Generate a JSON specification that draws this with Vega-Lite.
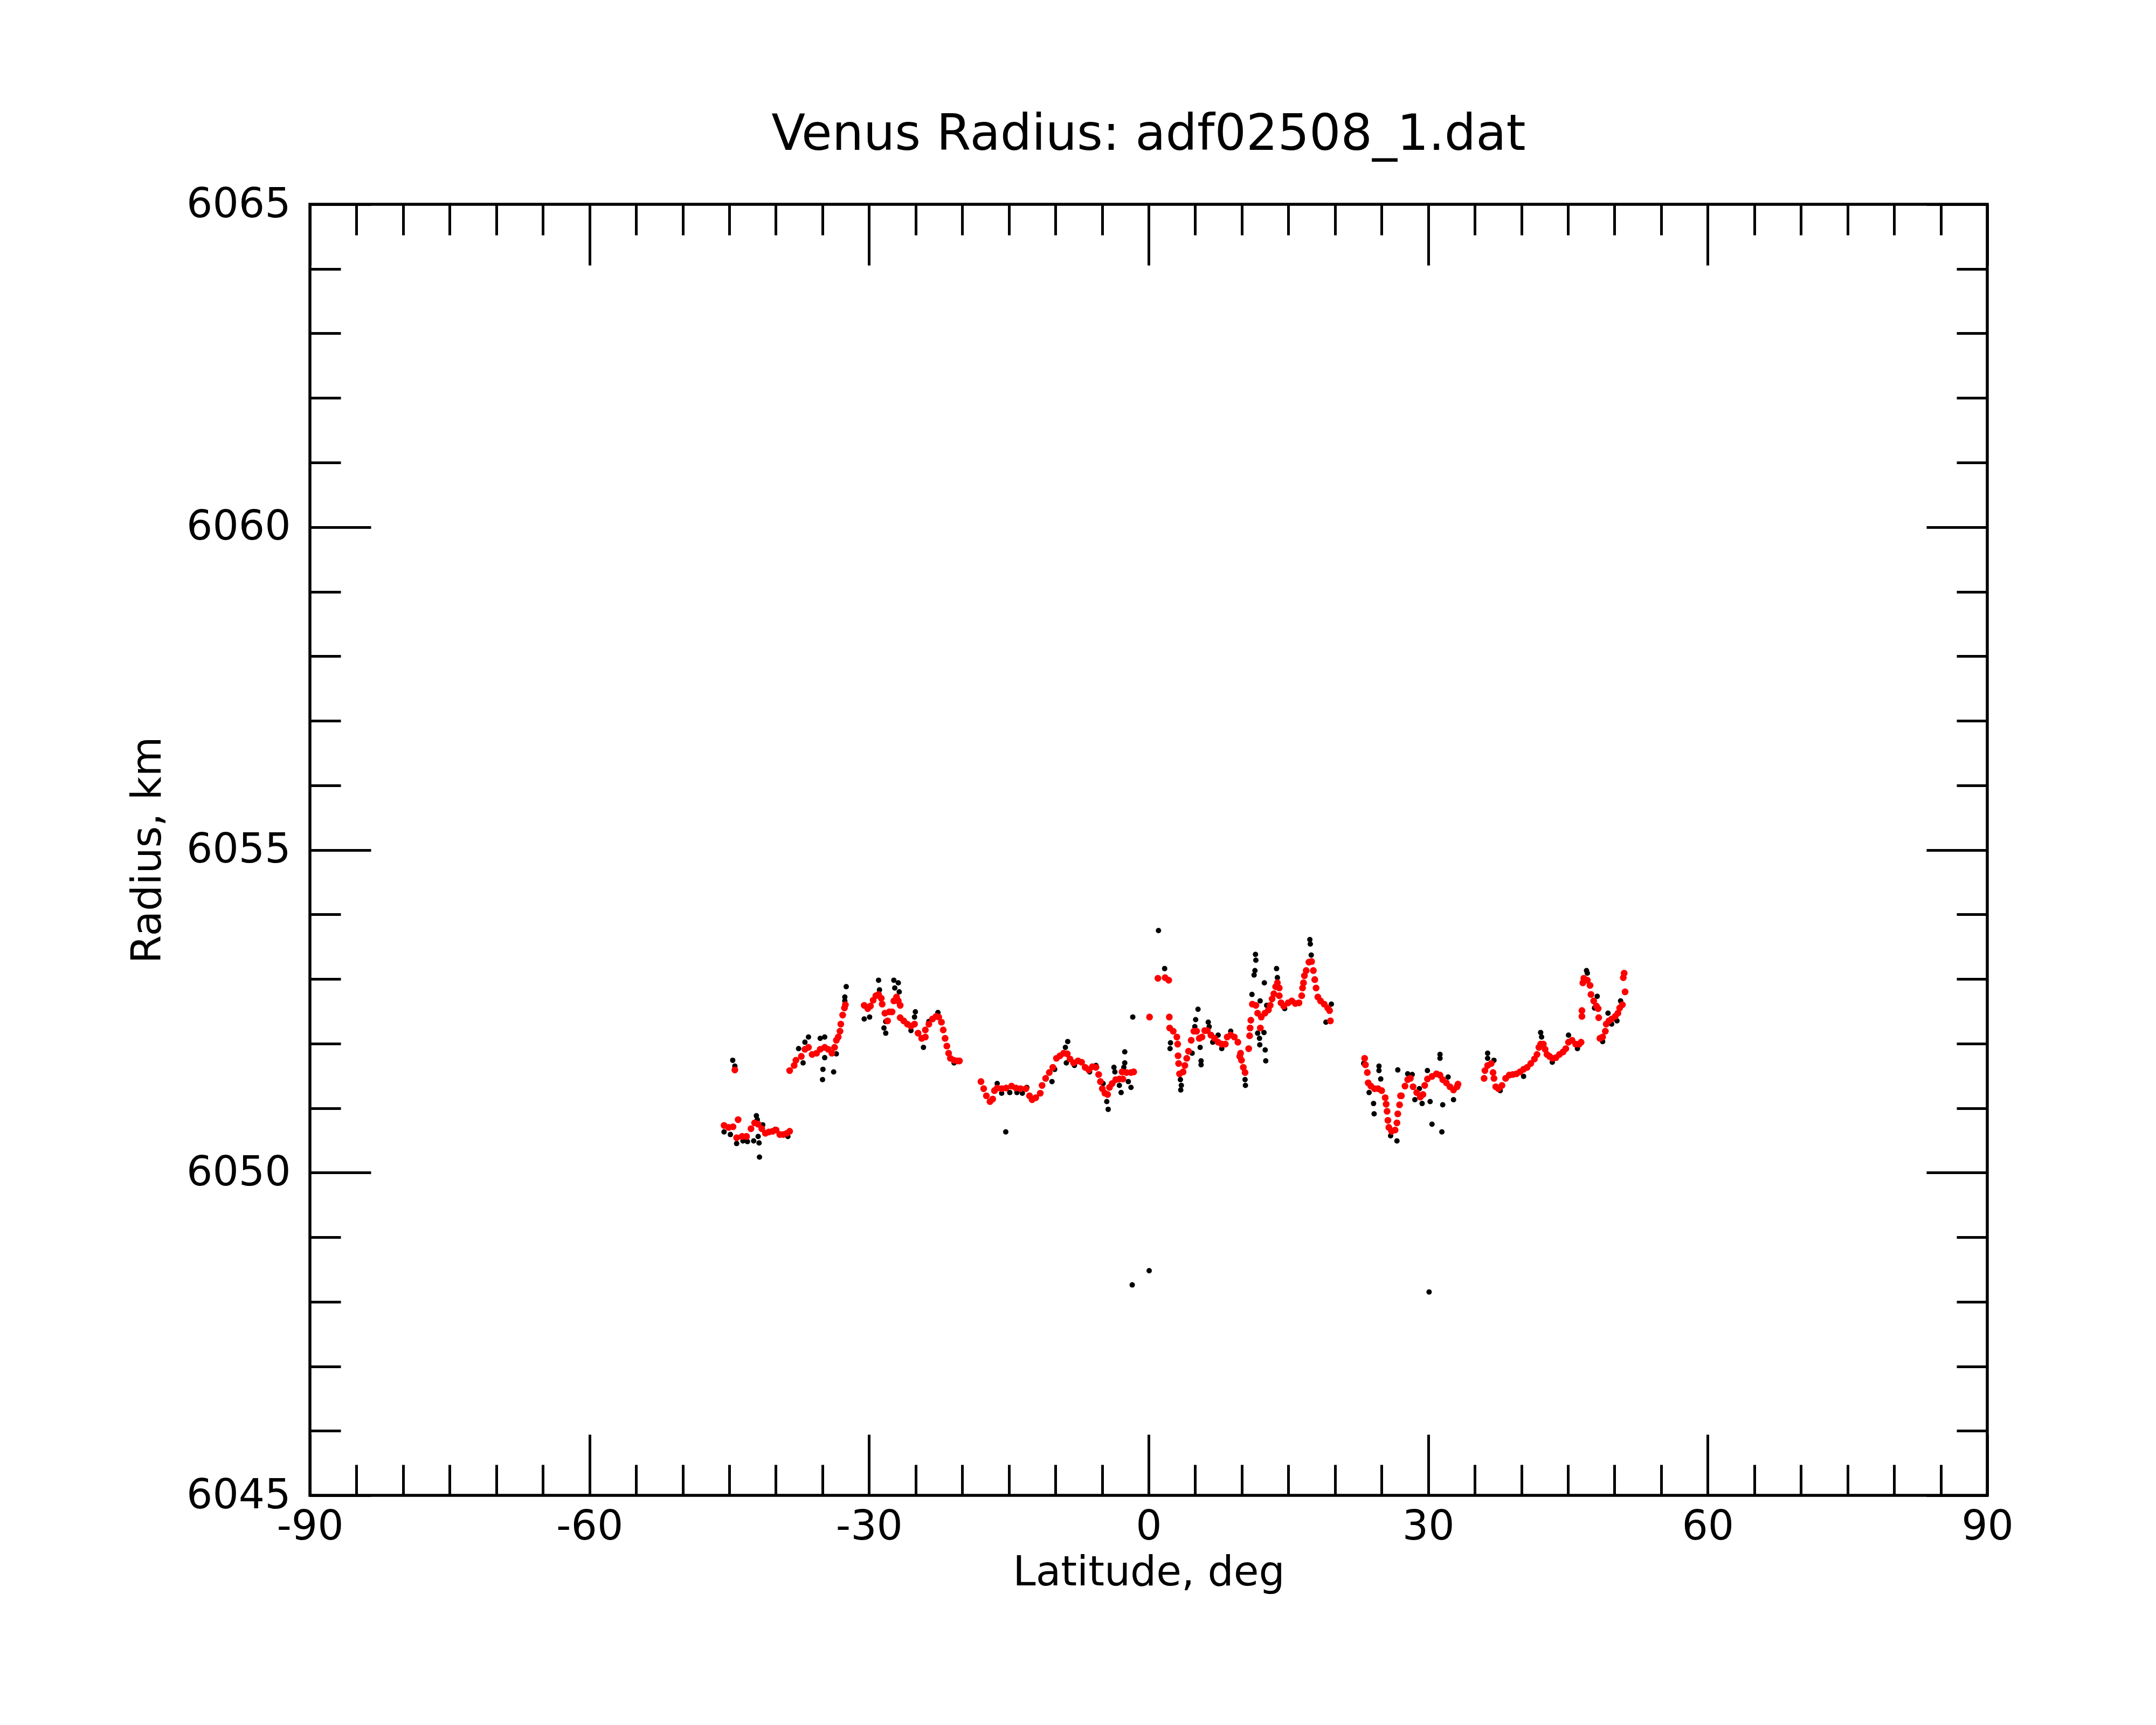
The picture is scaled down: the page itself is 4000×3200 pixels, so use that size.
{
  "$schema": "https://vega.github.io/schema/vega-lite/v6.json",
  "autosize": {"type": "none"},
  "padding": {"left": 575, "top": 379, "right": 313, "bottom": 426},
  "width": 3112,
  "height": 2395,
  "background": "white",
  "config": {
    "font": "DejaVu Sans",
    "view": {"stroke": "black", "strokeWidth": 5.5},
    "axis": {
      "domain": false,
      "ticks": false,
      "grid": true,
      "gridColor": "black",
      "gridOpacity": 1,
      "gridWidth": 5,
      "labelFont": "DejaVu Sans",
      "labelFontSize": 76,
      "labelColor": "black",
      "labelFlush": false,
      "labelOverlap": false,
      "labelLimit": 0,
      "titleFont": "DejaVu Sans",
      "titleFontSize": 76,
      "titleFontWeight": "normal",
      "titleColor": "black"
    }
  },
  "title": {
    "text": "Venus Radius: adf02508_1.dat",
    "fontSize": 92,
    "fontWeight": "normal",
    "font": "DejaVu Sans",
    "color": "black",
    "anchor": "middle",
    "baseline": "alphabetic",
    "offset": -29
  },
  "datasets": {
    "raw": [
      {"lat": -45.56, "r": 6050.63}, {"lat": -44.88, "r": 6050.59}, {"lat": -44.21, "r": 6050.45}, {"lat": -43.53, "r": 6050.49},
      {"lat": -43.05, "r": 6050.48}, {"lat": -42.38, "r": 6050.49}, {"lat": -42.09, "r": 6050.88}, {"lat": -41.99, "r": 6050.82},
      {"lat": -41.90, "r": 6050.56}, {"lat": -41.80, "r": 6050.46}, {"lat": -41.76, "r": 6050.24}, {"lat": -41.41, "r": 6050.74},
      {"lat": -40.06, "r": 6050.67}, {"lat": -38.71, "r": 6050.56}, {"lat": -44.63, "r": 6051.74}, {"lat": -44.40, "r": 6051.65},
      {"lat": -37.56, "r": 6051.92}, {"lat": -36.88, "r": 6052.02}, {"lat": -36.50, "r": 6052.10}, {"lat": -35.24, "r": 6052.08},
      {"lat": -34.76, "r": 6052.10}, {"lat": -34.95, "r": 6051.60}, {"lat": -33.80, "r": 6051.56}, {"lat": -34.99, "r": 6051.44},
      {"lat": -34.76, "r": 6051.78}, {"lat": -33.51, "r": 6051.84}, {"lat": -37.08, "r": 6051.70}, {"lat": -32.45, "r": 6052.88},
      {"lat": -32.60, "r": 6052.72}, {"lat": -32.60, "r": 6052.66},
      {"lat": -28.98, "r": 6052.98}, {"lat": -30.52, "r": 6052.38}, {"lat": -29.94, "r": 6052.41}, {"lat": -28.88, "r": 6052.83},
      {"lat": -27.34, "r": 6052.98}, {"lat": -26.86, "r": 6052.94}, {"lat": -26.76, "r": 6052.80}, {"lat": -27.24, "r": 6052.86},
      {"lat": -28.21, "r": 6052.16}, {"lat": -28.40, "r": 6052.24}, {"lat": -28.21, "r": 6052.34}, {"lat": -25.03, "r": 6052.49},
      {"lat": -25.12, "r": 6052.41}, {"lat": -24.16, "r": 6051.94}, {"lat": -22.61, "r": 6052.48}, {"lat": -23.58, "r": 6052.34},
      {"lat": -25.50, "r": 6052.20}, {"lat": -20.88, "r": 6051.70},
      {"lat": -16.25, "r": 6051.38}, {"lat": -15.77, "r": 6051.23}, {"lat": -14.90, "r": 6051.24}, {"lat": -14.13, "r": 6051.24},
      {"lat": -13.55, "r": 6051.23}, {"lat": -13.07, "r": 6051.32}, {"lat": -10.37, "r": 6051.41}, {"lat": -10.08, "r": 6051.60},
      {"lat": -8.93, "r": 6051.94}, {"lat": -8.68, "r": 6052.03}, {"lat": -8.83, "r": 6051.70}, {"lat": -7.96, "r": 6051.66},
      {"lat": -6.33, "r": 6051.56}, {"lat": -5.65, "r": 6051.66}, {"lat": -4.88, "r": 6051.38}, {"lat": -4.49, "r": 6051.10},
      {"lat": -4.34, "r": 6050.98}, {"lat": -3.72, "r": 6051.63}, {"lat": -3.62, "r": 6051.56}, {"lat": -3.14, "r": 6051.35},
      {"lat": -2.95, "r": 6051.24}, {"lat": -2.66, "r": 6051.63}, {"lat": -2.56, "r": 6051.70}, {"lat": -2.56, "r": 6051.87},
      {"lat": -2.18, "r": 6051.41}, {"lat": -1.89, "r": 6051.32}, {"lat": -15.33, "r": 6050.63}, {"lat": -1.70, "r": 6052.41},
      {"lat": 1.72, "r": 6053.16}, {"lat": 2.35, "r": 6052.01}, {"lat": 2.30, "r": 6051.92}, {"lat": 3.41, "r": 6051.44},
      {"lat": 3.51, "r": 6051.35}, {"lat": 3.45, "r": 6051.28}, {"lat": 5.30, "r": 6052.53}, {"lat": 5.05, "r": 6052.37},
      {"lat": 4.96, "r": 6052.26}, {"lat": 6.40, "r": 6052.33}, {"lat": 6.50, "r": 6052.26}, {"lat": 5.53, "r": 6051.94},
      {"lat": 5.63, "r": 6051.73}, {"lat": 5.63, "r": 6051.67}, {"lat": 4.67, "r": 6051.85}, {"lat": 6.88, "r": 6052.02},
      {"lat": 7.46, "r": 6052.13}, {"lat": 7.85, "r": 6051.92}, {"lat": 8.81, "r": 6052.19},
      {"lat": 1.06, "r": 6053.75}, {"lat": 11.47, "r": 6053.38}, {"lat": 11.51, "r": 6053.29}, {"lat": 11.41, "r": 6053.13},
      {"lat": 11.32, "r": 6053.06}, {"lat": 12.42, "r": 6052.94}, {"lat": 11.09, "r": 6052.76}, {"lat": 11.97, "r": 6052.66},
      {"lat": 12.67, "r": 6052.59}, {"lat": 13.73, "r": 6053.16}, {"lat": 13.82, "r": 6053.02}, {"lat": 11.70, "r": 6052.16},
      {"lat": 11.90, "r": 6052.08}, {"lat": 12.38, "r": 6052.17}, {"lat": 11.93, "r": 6051.98}, {"lat": 12.51, "r": 6051.90},
      {"lat": 12.57, "r": 6051.73}, {"lat": 17.30, "r": 6053.61}, {"lat": 17.35, "r": 6053.54}, {"lat": 17.45, "r": 6053.37},
      {"lat": 14.60, "r": 6052.54}, {"lat": 19.61, "r": 6052.61}, {"lat": 19.03, "r": 6052.33}, {"lat": 10.39, "r": 6051.35},
      {"lat": 10.35, "r": 6051.44},
      {"lat": 23.08, "r": 6051.69}, {"lat": 24.72, "r": 6051.65}, {"lat": 24.72, "r": 6051.58}, {"lat": 24.91, "r": 6051.45},
      {"lat": 26.74, "r": 6051.59}, {"lat": 24.14, "r": 6051.07}, {"lat": 24.20, "r": 6050.91}, {"lat": 23.66, "r": 6051.24},
      {"lat": 25.97, "r": 6050.57}, {"lat": 26.65, "r": 6050.49},
      {"lat": 27.80, "r": 6051.53}, {"lat": 28.29, "r": 6051.52}, {"lat": 28.57, "r": 6051.13}, {"lat": 29.35, "r": 6051.07},
      {"lat": 30.21, "r": 6051.10}, {"lat": 30.41, "r": 6050.75}, {"lat": 31.47, "r": 6050.63}, {"lat": 31.56, "r": 6051.05},
      {"lat": 29.92, "r": 6051.58}, {"lat": 31.27, "r": 6051.83}, {"lat": 31.27, "r": 6051.77}, {"lat": 32.14, "r": 6051.48},
      {"lat": 32.72, "r": 6051.13}, {"lat": 29.06, "r": 6051.30},
      {"lat": 36.38, "r": 6051.85}, {"lat": 36.38, "r": 6051.77}, {"lat": 37.06, "r": 6051.74}, {"lat": 42.07, "r": 6052.17},
      {"lat": 42.17, "r": 6052.10}, {"lat": 45.06, "r": 6052.13}, {"lat": 46.02, "r": 6051.92}, {"lat": 43.32, "r": 6051.71},
      {"lat": 37.73, "r": 6051.27}, {"lat": 40.24, "r": 6051.49},
      {"lat": 46.99, "r": 6053.13}, {"lat": 47.08, "r": 6053.09}, {"lat": 48.14, "r": 6052.73}, {"lat": 48.72, "r": 6052.03},
      {"lat": 49.30, "r": 6052.47}, {"lat": 49.69, "r": 6052.30}, {"lat": 50.26, "r": 6052.35}, {"lat": 50.65, "r": 6052.66},
      {"lat": 47.85, "r": 6052.55},
      {"lat": 0.06, "r": 6048.48}, {"lat": -1.76, "r": 6048.26}, {"lat": 30.1, "r": 6048.15}
    ],
    "smoothed": [
      {"lat": -45.56, "r": 6050.73}, {"lat": -45.08, "r": 6050.70}, {"lat": -44.60, "r": 6050.71}, {"lat": -44.05, "r": 6050.82},
      {"lat": -44.21, "r": 6050.54}, {"lat": -43.63, "r": 6050.56}, {"lat": -43.15, "r": 6050.56}, {"lat": -42.67, "r": 6050.68},
      {"lat": -42.28, "r": 6050.77}, {"lat": -41.90, "r": 6050.75}, {"lat": -41.51, "r": 6050.68}, {"lat": -41.12, "r": 6050.61},
      {"lat": -40.74, "r": 6050.63}, {"lat": -40.35, "r": 6050.64}, {"lat": -39.97, "r": 6050.66}, {"lat": -39.58, "r": 6050.59},
      {"lat": -39.20, "r": 6050.59}, {"lat": -38.81, "r": 6050.61}, {"lat": -38.52, "r": 6050.64}, {"lat": -44.40, "r": 6051.59},
      {"lat": -38.52, "r": 6051.58}, {"lat": -38.04, "r": 6051.66}, {"lat": -37.85, "r": 6051.74}, {"lat": -37.27, "r": 6051.80},
      {"lat": -36.88, "r": 6051.91}, {"lat": -36.50, "r": 6051.94}, {"lat": -36.11, "r": 6051.83}, {"lat": -35.63, "r": 6051.85},
      {"lat": -35.24, "r": 6051.91}, {"lat": -34.76, "r": 6051.94}, {"lat": -34.38, "r": 6051.91}, {"lat": -33.99, "r": 6051.85},
      {"lat": -33.70, "r": 6051.94}, {"lat": -33.51, "r": 6052.05}, {"lat": -33.31, "r": 6052.10}, {"lat": -33.12, "r": 6052.19},
      {"lat": -33.03, "r": 6052.30}, {"lat": -32.83, "r": 6052.44}, {"lat": -32.64, "r": 6052.55}, {"lat": -32.54, "r": 6052.60},
      {"lat": -30.52, "r": 6052.59}, {"lat": -30.14, "r": 6052.54}, {"lat": -29.85, "r": 6052.58}, {"lat": -29.56, "r": 6052.67},
      {"lat": -29.27, "r": 6052.74}, {"lat": -28.98, "r": 6052.76}, {"lat": -28.69, "r": 6052.70}, {"lat": -28.59, "r": 6052.61},
      {"lat": -28.30, "r": 6052.47}, {"lat": -28.01, "r": 6052.35}, {"lat": -27.82, "r": 6052.49}, {"lat": -27.53, "r": 6052.49},
      {"lat": -27.34, "r": 6052.66}, {"lat": -27.05, "r": 6052.72}, {"lat": -26.86, "r": 6052.66}, {"lat": -26.66, "r": 6052.59},
      {"lat": -26.66, "r": 6052.40}, {"lat": -26.28, "r": 6052.35}, {"lat": -25.89, "r": 6052.30}, {"lat": -25.50, "r": 6052.27},
      {"lat": -25.12, "r": 6052.30}, {"lat": -24.74, "r": 6052.16}, {"lat": -24.35, "r": 6052.08}, {"lat": -23.96, "r": 6052.10},
      {"lat": -23.96, "r": 6052.21}, {"lat": -23.58, "r": 6052.30}, {"lat": -23.19, "r": 6052.38}, {"lat": -22.81, "r": 6052.42},
      {"lat": -22.52, "r": 6052.41}, {"lat": -22.23, "r": 6052.33}, {"lat": -22.04, "r": 6052.21}, {"lat": -21.84, "r": 6052.08},
      {"lat": -21.65, "r": 6051.96}, {"lat": -21.46, "r": 6051.85}, {"lat": -21.27, "r": 6051.77}, {"lat": -20.88, "r": 6051.74},
      {"lat": -20.49, "r": 6051.73}, {"lat": -20.30, "r": 6051.73},
      {"lat": -17.99, "r": 6051.41}, {"lat": -17.70, "r": 6051.30}, {"lat": -17.41, "r": 6051.19}, {"lat": -17.02, "r": 6051.10},
      {"lat": -16.73, "r": 6051.14}, {"lat": -16.54, "r": 6051.27}, {"lat": -16.25, "r": 6051.31}, {"lat": -15.77, "r": 6051.30},
      {"lat": -15.29, "r": 6051.31}, {"lat": -14.71, "r": 6051.34}, {"lat": -14.23, "r": 6051.31}, {"lat": -13.75, "r": 6051.30},
      {"lat": -13.17, "r": 6051.30}, {"lat": -12.78, "r": 6051.19}, {"lat": -12.50, "r": 6051.13}, {"lat": -12.11, "r": 6051.16},
      {"lat": -11.63, "r": 6051.23}, {"lat": -11.43, "r": 6051.35}, {"lat": -11.05, "r": 6051.46}, {"lat": -10.66, "r": 6051.55},
      {"lat": -10.28, "r": 6051.63}, {"lat": -9.89, "r": 6051.77}, {"lat": -9.51, "r": 6051.81}, {"lat": -9.12, "r": 6051.85},
      {"lat": -8.73, "r": 6051.84}, {"lat": -8.44, "r": 6051.76}, {"lat": -8.06, "r": 6051.70}, {"lat": -7.58, "r": 6051.73},
      {"lat": -7.19, "r": 6051.71}, {"lat": -6.81, "r": 6051.63}, {"lat": -6.42, "r": 6051.59}, {"lat": -6.04, "r": 6051.64},
      {"lat": -5.65, "r": 6051.63}, {"lat": -5.36, "r": 6051.52}, {"lat": -5.17, "r": 6051.41}, {"lat": -4.97, "r": 6051.30},
      {"lat": -4.69, "r": 6051.23}, {"lat": -4.40, "r": 6051.21}, {"lat": -4.20, "r": 6051.32}, {"lat": -3.91, "r": 6051.38},
      {"lat": -3.53, "r": 6051.44}, {"lat": -3.14, "r": 6051.45}, {"lat": -2.76, "r": 6051.45}, {"lat": -2.85, "r": 6051.56},
      {"lat": -2.37, "r": 6051.55}, {"lat": -1.89, "r": 6051.55}, {"lat": -1.60, "r": 6051.56},
      {"lat": 0.10, "r": 6052.41}, {"lat": 2.22, "r": 6052.41}, {"lat": 1.00, "r": 6053.01}, {"lat": 1.77, "r": 6053.02},
      {"lat": 2.16, "r": 6052.98}, {"lat": 2.26, "r": 6052.24}, {"lat": 2.64, "r": 6052.19}, {"lat": 3.03, "r": 6052.10},
      {"lat": 3.12, "r": 6051.99}, {"lat": 3.16, "r": 6051.81}, {"lat": 3.22, "r": 6051.69}, {"lat": 3.32, "r": 6051.53},
      {"lat": 3.70, "r": 6051.56}, {"lat": 3.89, "r": 6051.66}, {"lat": 4.09, "r": 6051.77}, {"lat": 4.28, "r": 6051.88},
      {"lat": 4.57, "r": 6052.05}, {"lat": 4.86, "r": 6052.19}, {"lat": 5.15, "r": 6052.19}, {"lat": 5.44, "r": 6052.08},
      {"lat": 5.73, "r": 6052.10}, {"lat": 6.02, "r": 6052.20}, {"lat": 6.30, "r": 6052.20}, {"lat": 6.69, "r": 6052.13},
      {"lat": 7.08, "r": 6052.08}, {"lat": 7.46, "r": 6052.02}, {"lat": 7.85, "r": 6051.99}, {"lat": 8.23, "r": 6051.99},
      {"lat": 8.43, "r": 6052.10}, {"lat": 8.81, "r": 6052.13}, {"lat": 9.20, "r": 6052.10}, {"lat": 9.58, "r": 6052.02},
      {"lat": 9.78, "r": 6051.80}, {"lat": 9.87, "r": 6051.85}, {"lat": 9.97, "r": 6051.74}, {"lat": 10.16, "r": 6051.63},
      {"lat": 10.35, "r": 6051.55}, {"lat": 10.74, "r": 6051.92}, {"lat": 10.84, "r": 6052.12}, {"lat": 10.89, "r": 6052.24},
      {"lat": 10.97, "r": 6052.36}, {"lat": 11.13, "r": 6052.61}, {"lat": 11.51, "r": 6052.59}, {"lat": 11.70, "r": 6052.47},
      {"lat": 12.09, "r": 6052.41}, {"lat": 12.48, "r": 6052.47}, {"lat": 12.86, "r": 6052.52}, {"lat": 13.05, "r": 6052.59},
      {"lat": 13.25, "r": 6052.69}, {"lat": 13.44, "r": 6052.77}, {"lat": 13.63, "r": 6052.88}, {"lat": 13.82, "r": 6052.94},
      {"lat": 14.02, "r": 6052.86}, {"lat": 14.02, "r": 6052.74}, {"lat": 14.21, "r": 6052.63}, {"lat": 14.50, "r": 6052.58},
      {"lat": 14.98, "r": 6052.63}, {"lat": 15.37, "r": 6052.66}, {"lat": 15.75, "r": 6052.62}, {"lat": 16.14, "r": 6052.63},
      {"lat": 16.43, "r": 6052.74}, {"lat": 16.52, "r": 6052.86}, {"lat": 16.62, "r": 6052.94}, {"lat": 16.72, "r": 6053.05},
      {"lat": 16.91, "r": 6053.13}, {"lat": 17.20, "r": 6053.26}, {"lat": 17.49, "r": 6053.27}, {"lat": 17.68, "r": 6053.13},
      {"lat": 17.83, "r": 6052.99}, {"lat": 17.97, "r": 6052.86}, {"lat": 18.16, "r": 6052.72}, {"lat": 18.45, "r": 6052.66},
      {"lat": 18.84, "r": 6052.61}, {"lat": 19.22, "r": 6052.55}, {"lat": 19.42, "r": 6052.51}, {"lat": 19.51, "r": 6052.35},
      {"lat": 11.99, "r": 6052.24},
      {"lat": 23.18, "r": 6051.77}, {"lat": 23.27, "r": 6051.67}, {"lat": 23.47, "r": 6051.55}, {"lat": 23.56, "r": 6051.39},
      {"lat": 23.85, "r": 6051.34}, {"lat": 24.24, "r": 6051.30}, {"lat": 24.62, "r": 6051.30}, {"lat": 25.01, "r": 6051.27},
      {"lat": 25.39, "r": 6051.16}, {"lat": 25.49, "r": 6051.06}, {"lat": 25.59, "r": 6050.95}, {"lat": 25.68, "r": 6050.81},
      {"lat": 25.78, "r": 6050.70}, {"lat": 26.07, "r": 6050.64}, {"lat": 26.45, "r": 6050.66}, {"lat": 26.65, "r": 6050.77},
      {"lat": 26.74, "r": 6050.91}, {"lat": 26.93, "r": 6051.05}, {"lat": 27.03, "r": 6051.19},
      {"lat": 27.13, "r": 6051.19}, {"lat": 27.51, "r": 6051.34}, {"lat": 27.80, "r": 6051.44}, {"lat": 28.09, "r": 6051.46},
      {"lat": 28.38, "r": 6051.33}, {"lat": 28.77, "r": 6051.24}, {"lat": 29.15, "r": 6051.17}, {"lat": 29.44, "r": 6051.21},
      {"lat": 29.63, "r": 6051.35}, {"lat": 29.92, "r": 6051.45}, {"lat": 30.41, "r": 6051.49}, {"lat": 30.89, "r": 6051.53},
      {"lat": 31.27, "r": 6051.51}, {"lat": 31.56, "r": 6051.44}, {"lat": 31.95, "r": 6051.39}, {"lat": 32.33, "r": 6051.33},
      {"lat": 32.72, "r": 6051.28}, {"lat": 33.10, "r": 6051.33}, {"lat": 33.20, "r": 6051.37},
      {"lat": 36.00, "r": 6051.46}, {"lat": 36.09, "r": 6051.58}, {"lat": 36.38, "r": 6051.66}, {"lat": 36.77, "r": 6051.69},
      {"lat": 36.96, "r": 6051.55}, {"lat": 37.06, "r": 6051.46}, {"lat": 37.25, "r": 6051.33}, {"lat": 37.54, "r": 6051.30},
      {"lat": 37.92, "r": 6051.35}, {"lat": 38.31, "r": 6051.46}, {"lat": 38.70, "r": 6051.51}, {"lat": 39.08, "r": 6051.52},
      {"lat": 39.47, "r": 6051.53}, {"lat": 39.85, "r": 6051.56}, {"lat": 40.24, "r": 6051.60}, {"lat": 40.62, "r": 6051.63},
      {"lat": 41.01, "r": 6051.69}, {"lat": 41.40, "r": 6051.76}, {"lat": 41.68, "r": 6051.83}, {"lat": 41.88, "r": 6051.94},
      {"lat": 42.07, "r": 6051.99}, {"lat": 42.36, "r": 6051.99}, {"lat": 42.55, "r": 6051.91}, {"lat": 42.75, "r": 6051.83},
      {"lat": 43.03, "r": 6051.80}, {"lat": 43.32, "r": 6051.77}, {"lat": 43.71, "r": 6051.78}, {"lat": 44.09, "r": 6051.83},
      {"lat": 44.48, "r": 6051.87}, {"lat": 44.77, "r": 6051.92}, {"lat": 45.06, "r": 6052.02}, {"lat": 45.44, "r": 6052.05},
      {"lat": 45.83, "r": 6051.99}, {"lat": 46.21, "r": 6051.99}, {"lat": 46.41, "r": 6052.02},
      {"lat": 46.60, "r": 6052.94}, {"lat": 46.70, "r": 6053.01}, {"lat": 47.08, "r": 6052.98}, {"lat": 47.37, "r": 6052.90},
      {"lat": 47.47, "r": 6052.76}, {"lat": 47.76, "r": 6052.66}, {"lat": 48.05, "r": 6052.58}, {"lat": 48.24, "r": 6052.54},
      {"lat": 48.30, "r": 6052.40}, {"lat": 46.50, "r": 6052.51}, {"lat": 46.50, "r": 6052.42}, {"lat": 48.43, "r": 6052.08},
      {"lat": 48.72, "r": 6052.10}, {"lat": 49.01, "r": 6052.19}, {"lat": 49.11, "r": 6052.30}, {"lat": 49.40, "r": 6052.35},
      {"lat": 49.69, "r": 6052.38}, {"lat": 50.07, "r": 6052.42}, {"lat": 50.36, "r": 6052.47}, {"lat": 50.55, "r": 6052.55},
      {"lat": 50.84, "r": 6052.60}, {"lat": 51.13, "r": 6052.80}, {"lat": 50.94, "r": 6053.02}, {"lat": 51.03, "r": 6053.09}
    ]
  },
  "encoding": {
    "x": {
      "field": "lat",
      "type": "quantitative",
      "scale": {"domain": [-90, 90], "nice": false, "zero": false},
      "axis": {
        "orient": "bottom",
        "title": "Latitude, deg",
        "titlePadding": 10,
        "values": [-90, -85, -80, -75, -70, -65, -60, -55, -50, -45, -40, -35, -30, -25, -20, -15, -10, -5, 0, 5, 10, 15, 20, 25, 30, 35, 40, 45, 50, 55, 60, 65, 70, 75, 80, 85, 90],
        "labelExpr": "datum.value % 30 === 0 ? '' + datum.value : ''",
        "labelPadding": 21,
        "gridDash": {"condition": {"test": "datum.value % 30 === 0", "value": [113, 2169]}, "value": [57, 2281]}
      }
    },
    "y": {
      "field": "r",
      "type": "quantitative",
      "scale": {"domain": [6045, 6065], "nice": false, "zero": false},
      "axis": {
        "orient": "left",
        "title": "Radius, km",
        "titlePadding": 62,
        "values": [6045, 6046, 6047, 6048, 6049, 6050, 6051, 6052, 6053, 6054, 6055, 6056, 6057, 6058, 6059, 6060, 6061, 6062, 6063, 6064, 6065],
        "labelExpr": "datum.value % 5 === 0 ? '' + datum.value : ''",
        "labelPadding": 36,
        "gridDash": {"condition": {"test": "datum.value % 5 === 0", "value": [113, 2886]}, "value": [57, 2998]}
      }
    }
  },
  "layer": [
    {
      "data": {"name": "raw"},
      "mark": {"type": "circle", "color": "black", "size": 100, "opacity": 1}
    },
    {
      "data": {"name": "smoothed"},
      "mark": {"type": "circle", "color": "#ff0000", "size": 160, "opacity": 1}
    }
  ]
}
